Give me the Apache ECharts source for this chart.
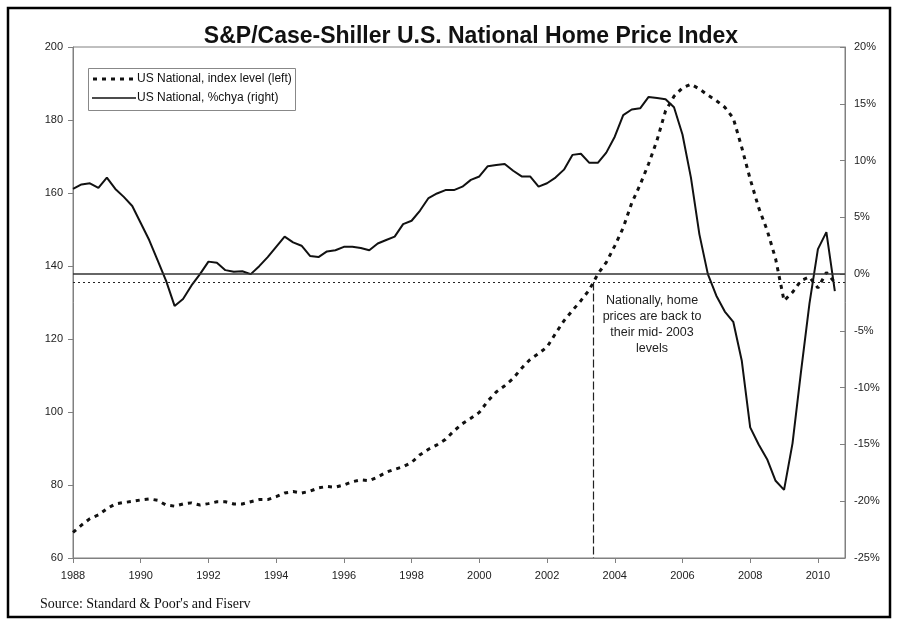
<!DOCTYPE html>
<html>
<head>
<meta charset="utf-8">
<script src="https://cdn.jsdelivr.net/npm/echarts@6/dist/echarts.min.js"></script>
<style>
html,body{margin:0;padding:0;background:#fff;}
#chart{width:898px;height:624px;}
</style>
</head>
<body>
<div id="chart"></div>
<script>
// ---- data (quarterly, 1988 Q1 .. 2010 Q3) ----
const startYear = 1988;
const indexLevel = [
  67.0, 69.0, 70.8, 71.8,
  73.5, 74.8, 75.2, 75.5,
  75.9, 76.2, 75.8, 74.5,
  74.2, 74.8, 75.1, 74.5,
  74.9, 75.4, 75.4, 74.8,
  74.8, 75.4, 76.0, 76.0,
  76.8, 77.8, 78.2, 77.8,
  78.3, 79.2, 79.6, 79.4,
  80.0, 80.9, 81.4, 81.2,
  82.2, 83.5, 84.3, 85.0,
  86.2, 88.3, 89.8, 91.0,
  92.5, 94.8, 96.8, 98.3,
  99.9, 103.0, 105.5, 107.2,
  109.2, 112.0, 114.4, 116.0,
  117.8, 121.5, 125.0, 127.8,
  130.5, 133.5, 137.8, 141.0,
  145.5, 150.5, 157.2, 162.3,
  168.0, 174.5, 182.5, 186.5,
  188.8, 189.8, 188.5, 186.8,
  185.3, 183.5, 180.5, 172.5,
  163.8, 156.0, 149.8, 142.0,
  130.5, 132.8, 136.0, 137.0,
  134.0, 138.2, 135.5
];
const pctChya = [
  7.5, 7.9, 8.0, 7.6,
  8.5, 7.5, 6.8, 6.0,
  4.5, 3.0, 1.2, -0.6,
  -2.8, -2.2, -1.0, 0.0,
  1.1, 1.0, 0.35, 0.2,
  0.25, 0.0, 0.7, 1.5,
  2.4, 3.3, 2.8, 2.5,
  1.6, 1.5, 2.0, 2.1,
  2.4, 2.4, 2.3, 2.1,
  2.7, 3.0, 3.3, 4.4,
  4.7, 5.6, 6.7, 7.1,
  7.4, 7.4, 7.7, 8.3,
  8.6, 9.5, 9.6, 9.7,
  9.1, 8.6, 8.6, 7.7,
  8.0, 8.5, 9.2, 10.5,
  10.6, 9.8, 9.8, 10.7,
  12.1, 14.0, 14.5, 14.6,
  15.6, 15.5, 15.4, 14.7,
  12.3, 8.5, 3.5, 0.0,
  -1.9, -3.3, -4.2, -7.6,
  -13.5, -15.0, -16.3, -18.2,
  -19.0, -14.9, -8.6, -2.6,
  2.2, 3.7, -1.5
];
const currentLevel = 135.5;   // dotted reference line (left axis)
const mid2003 = 2003.36;      // where the index crossed the current level
const leftTicks = {min: 60, max: 200, interval: 20};
const rightTicks = {min: -25, max: 20, interval: 5};
const xTicks = {min: 1988, max: 2010.8, interval: 2};
const seriesNames = ['US National, index level (left)', 'US National, %chya (right)'];

// quarter positions in fractional years
const quarterTimes = indexLevel.map((_, i) => startYear + i / 4);
const idxData = indexLevel.map((v, i) => [quarterTimes[i], v]);
const pctData = pctChya.map((v, i) => [quarterTimes[i], v]);

const FONT = '"Liberation Sans", Arial, sans-serif';
const DOT_STYLE = {color: '#111', width: 3, type: [4, 5]};
const chart = echarts.init(document.getElementById('chart'), null, {renderer: 'canvas'});

chart.setOption({
  backgroundColor: '#ffffff',
  animation: false,
  title: {
    text: 'S&P/Case-Shiller U.S. National Home Price Index',
    left: 466, textAlign: 'center', top: 20,
    textStyle: {fontFamily: FONT, fontSize: 23, fontWeight: 'bold', color: '#111'}
  },
  legend: {show: false, data: seriesNames},
  grid: {left: 73, right: 53, top: 47, bottom: 66, show: true, borderColor: '#808080', borderWidth: 1, containLabel: false},
  xAxis: {
    type: 'value', min: xTicks.min, max: xTicks.max, interval: xTicks.interval,
    axisLine: {onZero: false, lineStyle: {color: '#808080'}},
    axisTick: {length: 5, lineStyle: {color: '#808080'}},
    splitLine: {show: false},
    axisLabel: {
      fontFamily: FONT, fontSize: 11, color: '#222', margin: 12, showMaxLabel: false,
      formatter: v => (Number.isInteger(v) && v % 2 === 0) ? String(v) : ''
    }
  },
  yAxis: [
    {
      type: 'value', position: 'left', min: leftTicks.min, max: leftTicks.max, interval: leftTicks.interval,
      axisLine: {show: true, onZero: false, lineStyle: {color: '#808080'}},
      axisTick: {show: true, length: 5, lineStyle: {color: '#808080'}},
      splitLine: {show: false},
      axisLabel: {fontFamily: FONT, fontSize: 11, color: '#222', margin: 10}
    },
    {
      type: 'value', position: 'right', min: rightTicks.min, max: rightTicks.max, interval: rightTicks.interval,
      axisLine: {show: true, onZero: false, lineStyle: {color: '#808080'}},
      axisTick: {show: true, inside: true, length: 5, lineStyle: {color: '#808080'}},
      splitLine: {show: false},
      axisLabel: {fontFamily: FONT, fontSize: 11, color: '#222', margin: 9, formatter: '{value}%'}
    }
  ],
  series: [
    {
      name: seriesNames[0], type: 'line', yAxisIndex: 0, data: idxData,
      showSymbol: false, symbol: 'none',
      lineStyle: DOT_STYLE,
      itemStyle: {color: '#111'},
      markLine: {
        silent: true, symbol: 'none', label: {show: false}, animation: false,
        data: [
          {yAxis: currentLevel, lineStyle: {color: '#222', width: 1.2, type: [2, 3]}},
          [
            {coord: [mid2003, currentLevel], lineStyle: {color: '#222', width: 1.2, type: [8, 3]}},
            {coord: [mid2003, leftTicks.min]}
          ]
        ]
      },
      z: 3
    },
    {
      name: seriesNames[1], type: 'line', yAxisIndex: 1, data: pctData,
      showSymbol: false, symbol: 'none',
      lineStyle: {color: '#111', width: 2},
      itemStyle: {color: '#111'},
      markLine: {
        silent: true, symbol: 'none', label: {show: false}, animation: false,
        data: [{yAxis: 0, lineStyle: {color: '#333', width: 1.5, type: 'solid'}}]
      },
      z: 4
    }
  ],
  graphic: [
    {
      type: 'rect', shape: {x: 8, y: 8, width: 882, height: 609},
      style: {fill: 'none', stroke: '#000', lineWidth: 2.5}, silent: true
    },
    // legend box
    {
      type: 'rect', shape: {x: 88.5, y: 68.5, width: 207, height: 42},
      style: {fill: '#fff', stroke: '#888', lineWidth: 1}, z: 10
    },
    {
      type: 'line', shape: {x1: 93, y1: 79, x2: 136, y2: 79},
      style: {stroke: DOT_STYLE.color, lineWidth: DOT_STYLE.width, lineDash: DOT_STYLE.type}, z: 11
    },
    {
      type: 'text', x: 137, y: 79,
      style: {text: seriesNames[0], fontFamily: FONT, fontSize: 12, fill: '#111', textVerticalAlign: 'middle'}, z: 11
    },
    {
      type: 'line', shape: {x1: 92, y1: 98, x2: 136, y2: 98},
      style: {stroke: '#111', lineWidth: 1.5}, z: 11
    },
    {
      type: 'text', x: 137, y: 98,
      style: {text: seriesNames[1], fontFamily: FONT, fontSize: 12, fill: '#111', textVerticalAlign: 'middle'}, z: 11
    },
    {
      type: 'text', x: 652, y: 293,
      style: {
        text: 'Nationally, home\nprices are back to\ntheir mid- 2003\nlevels',
        textAlign: 'center', fontFamily: FONT, fontSize: 12.5, lineHeight: 16, fill: '#222'
      }
    },
    {
      type: 'text', x: 40, y: 597,
      style: {
        text: "Source: Standard & Poor's and Fiserv",
        fontFamily: '"Liberation Serif", "Times New Roman", serif', fontSize: 14, fill: '#111'
      }
    }
  ]
});
</script>
</body>
</html>
